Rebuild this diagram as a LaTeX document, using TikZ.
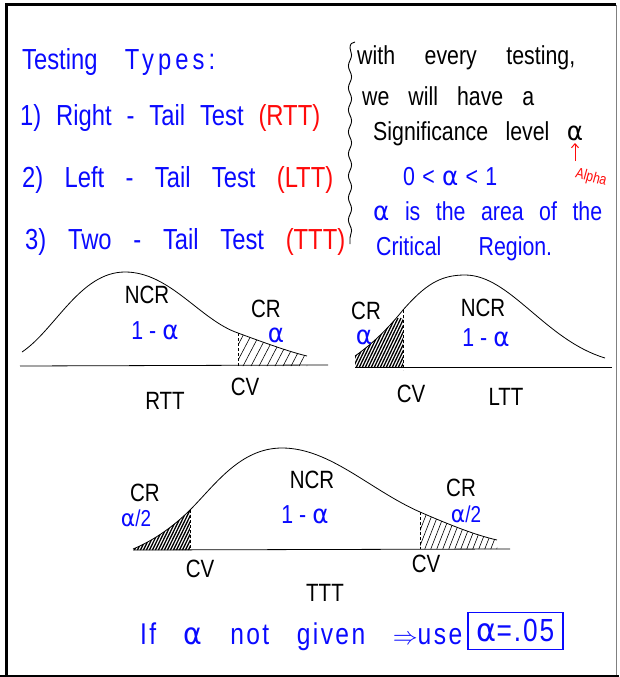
\documentclass[tikz,border=0pt]{standalone}
\usepackage{fontspec}
\setmainfont{Liberation Sans}[FakeStretch=0.82]
\newfontfamily\gk{DejaVu Sans}[FakeStretch=0.95]
\usetikzlibrary{decorations.pathmorphing,arrows.meta}
\definecolor{pen}{RGB}{10,10,255}
\definecolor{redpen}{RGB}{255,10,10}
\newcommand\wl[2]{\hbox to #1pt{\spaceskip=.2em plus 30em minus .15em\relax #2}}
\newcommand\fs[1]{\fontsize{#1}{#1}\selectfont}
\newcommand\al{{\gk α}}
\newcommand\ls[2]{{\addfontfeature{LetterSpace=#1}#2}}
\begin{document}
\begin{tikzpicture}[x=1pt,y=-1pt,
  curve/.style={line width=0.8pt,black},
  base/.style={line width=0.8pt,black},
  cvline/.style={line width=0.9pt,dashed,dash pattern=on 3pt off 2pt},
  hatchs/.style={line width=0.6pt},
  hatchd/.style={line width=1.3pt},
  lbl/.style={inner sep=0pt,font=\fs{25},text height=0.72em,text depth=0pt},
  bl/.style={inner sep=0pt,font=\fs{26},text=pen,text height=0.72em,text depth=0pt},
  top/.style={inner sep=0pt,anchor=base west,font=\fs{29},text=pen},
  rt/.style={inner sep=0pt,anchor=base west,font=\fs{26}}]
\useasboundingbox (0,0) rectangle (619,677);
\fill[white] (0,0) rectangle (619,677);
% frame
\draw[line width=3pt] (6,677) -- (6,5) -- (616,5);
\draw[line width=3pt] (0,676) -- (619,676);
\draw[gray,line width=1pt] (616,5) -- (616,675);

% left list
\node[top] (tt) at (22,70) {\wl{193}{Testing \ls{14}{Types:}}};
\node[top] (l1) at (20,125) {\wl{300}{1) Right - Tail Test \textcolor{redpen}{(RTT)}}};
\node[top] (l2) at (22,187) {\wl{311}{2) Left - Tail Test \textcolor{redpen}{(LTT)}}};
\node[top] (l3) at (25,249) {\wl{320}{3) Two - Tail Test \textcolor{redpen}{(TTT)}}};

% brace
\draw[line width=0.9pt,decorate,decoration={snake,amplitude=1.6pt,segment length=22pt}]
  (350,48) -- (350,244);
\draw[line width=0.9pt] (350,48) .. controls (350,44) and (352,42) .. (355,42);

% right column
\node[rt] (r1) at (357,65) {\wl{218}{with every testing,}};
\node[rt] (r2) at (362,105) {\wl{172}{we will have a}};
\node[rt] (r3) at (373,140) {\wl{210}{Significance level \al}};
\node[rt,text=pen] (r4) at (403,185) {\wl{94}{0 < \al{} < 1}};
\node[rt,text=pen] (r5) at (373,220) {\wl{229}{\al{} is the area of the}};
\node[rt,text=pen] (r6) at (376,255) {\wl{176}{Critical Region.}};
\coordinate (arS) at (575,161);
\coordinate (arE) at (575,143);
\draw[redpen,line width=1pt,-{Straight Barb[length=4pt,width=7pt]}] (arS) -- (arE);
\node[inner sep=0pt,text=redpen,font=\fs{15},rotate=-15,text height=0.72em,text depth=0pt] (alpha) at (591,178) {Alpha};

% ---------- RTT ----------
\draw[base] (20,366) -- (328,365);
\begin{scope}
\clip (238,333) .. controls (265,343) and (290,352) .. (307,356) -- (307,366) -- (238,366) -- cycle;
\foreach \x in {226,234,...,310} \draw[hatchs] (\x,368) -- (\x+22,326);
\end{scope}
\draw[curve] (22,352) .. controls (55,330) and (80,272) .. (125,272)
  .. controls (170,272) and (200,320) .. (238,333)
  .. controls (265,343) and (290,352) .. (307,356);
\draw[cvline] (238,333) -- (238,366);
\node[lbl] (ncr1) at (147,300) {NCR};
\node[bl] (ia1) at (155,336) {1 - \al};
\node[lbl] (cr1) at (266,314) {CR};
\node[bl] (a1) at (276,339) {\al};
\node[lbl] (cv1) at (245,392) {CV};
\node[lbl] (rtt) at (165,406) {RTT};

% ---------- LTT ----------
\draw[base] (355,367) -- (612,367);
\begin{scope}
\clip (355,356) .. controls (375,342) and (390,326) .. (403,310) -- (403,367) -- (355,367) -- cycle;
\foreach \x in {340,343,...,406} \draw[hatchd] (\x,370) -- (\x+25,318);
\end{scope}
\draw[curve] (355,356) .. controls (375,342) and (390,326) .. (403,310)
  .. controls (425,285) and (440,275) .. (465,275)
  .. controls (510,275) and (545,340) .. (605,358);
\draw[cvline] (403,310) -- (403,370);
\node[lbl] (cr2) at (366,316) {CR};
\node[bl] (a2) at (364,341) {\al};
\node[lbl] (ncr2) at (483,313) {NCR};
\node[bl] (ia2) at (486,343) {1 - \al};
\node[lbl] (cv2) at (411,399) {CV};
\node[lbl] (ltt) at (506,402) {LTT};

% ---------- TTT ----------
\draw[base] (133,550) -- (510,549);
\begin{scope}
\clip (133,549) .. controls (155,540) and (175,525) .. (190,510) -- (190,550) -- (133,550) -- cycle;
\foreach \x in {118,121,...,194} \draw[hatchd] (\x,553) -- (\x+22,508);
\end{scope}
\begin{scope}
\clip (420,512) .. controls (450,525) and (475,535) .. (497,540) -- (497,549) -- (420,549) -- cycle;
\foreach \x in {412,418,...,500} \draw[hatchs] (\x,551) -- (\x+16,510);
\end{scope}
\draw[curve] (133,549) .. controls (155,540) and (175,525) .. (190,510)
  .. controls (215,485) and (240,448) .. (282,448)
  .. controls (330,448) and (370,490) .. (420,512)
  .. controls (450,525) and (475,535) .. (497,540);
\draw[cvline] (190,510) -- (190,550);
\draw[cvline] (420,512) -- (420,549);
\node[lbl] (cr3) at (145,498) {CR};
\node[bl,font=\fs{23}] (h3) at (136,523) {\al/2};
\node[lbl] (ncr3) at (312,485) {NCR};
\node[bl] (ia3) at (305,520) {1 - \al};
\node[lbl] (cr4) at (461,493) {CR};
\node[bl,font=\fs{23}] (h4) at (466,519) {\al/2};
\node[lbl] (cv3) at (200,574) {CV};
\node[lbl] (cv4) at (426,569) {CV};
\node[lbl] (ttt) at (325,598) {TTT};

% bottom note
\node[top,font=\fs{30}] (note) at (140,644) {\wl{322}{\ls{8}{If} \al{} \ls{8}{not} \ls{8}{given} $\Rightarrow$\ls{8}{use}}};
\node[draw=pen,line width=1.2pt,text=pen,font=\fs{32},minimum width=95pt,minimum height=37pt,inner sep=0pt] (box) at (515.5,631) {\ls{6}{\al=.05}};
\end{tikzpicture}
\end{document}
